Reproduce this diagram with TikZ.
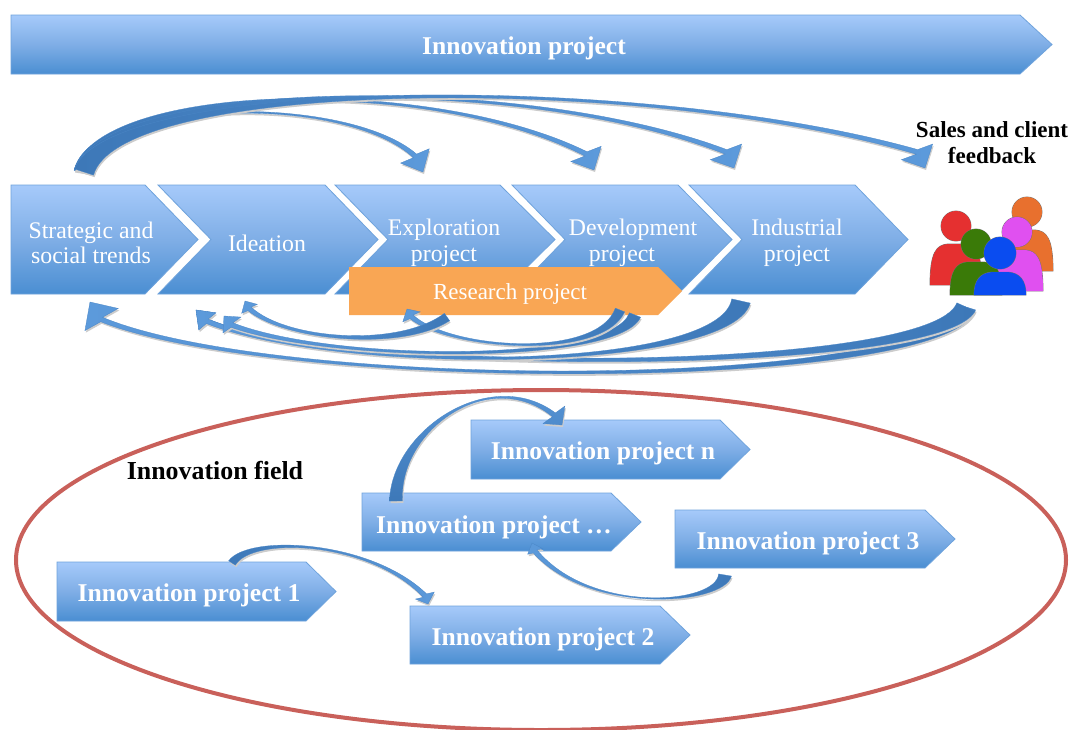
\documentclass[tikz,border=0pt]{standalone}
\usepackage{fontspec}
\setmainfont{Liberation Serif}
\definecolor{chevtop}{HTML}{A6CAFA}
\definecolor{chevmid}{HTML}{7FAEE6}
\definecolor{chevbot}{HTML}{4A8ED2}
\definecolor{chevline}{HTML}{6FA3DC}
\definecolor{swooshdark}{HTML}{3D78B8}
\definecolor{swooshblue}{HTML}{5C9ADB}
\definecolor{swooshline}{HTML}{4A86C6}
\definecolor{resorange}{HTML}{F9A654}
\definecolor{fieldred}{HTML}{C9605A}
\definecolor{pOrange}{HTML}{E8702E}
\definecolor{pRed}{HTML}{E53030}
\definecolor{pGreen}{HTML}{3A7A08}
\definecolor{pMagenta}{HTML}{E050F0}
\definecolor{pBlue}{HTML}{0A4CF0}
\tikzset{
  chevshape/.style={top color=chevtop,bottom color=chevbot,middle color=chevmid,draw=chevline,line width=0.8pt},
  chevtext/.style={text=white,align=center,font=\fontsize{23.8}{25.5}\selectfont,inner sep=0pt},
  chevbold/.style={text=white,align=center,font=\fontsize{25.6}{28}\selectfont\bfseries,inner sep=0pt},
  blacklabel/.style={text=black,align=center,font=\fontsize{23}{26}\selectfont\bfseries,inner sep=0pt},
  swooshleft/.style={left color=swooshdark,right color=swooshblue},
  swooshright/.style={left color=swooshblue,right color=swooshdark},
  swooshup/.style={top color=swooshblue,bottom color=swooshdark},
  swooshfill/.style={swooshleft},
}
% chevron: x-left, x-shoulder, x-tip, y-top, y-bottom, notch depth
\newcommand\chev[6]{%
  \pgfmathsetmacro\ymid{(#4+#5)/2}%
  \pgfmathsetmacro\xn{#1+#6}%
  \shade[chevshape] (#1,#4) -- (#2,#4) -- (#3,\ymid) -- (#2,#5) -- (#1,#5) -- (\xn,\ymid) -- cycle;}
\def\parsesw#1/#2/#3/#4/#5\relax{\def\swW{#1}\def\swL{#2}\def\swH{#3}\def\swDx{#4}\def\swDy{#5}}
% width/headlen/headwidth/headdirx/headdiry (start)(ctrl1)(ctrl2)(tip)
\def\swoosh#1(#2,#3)(#4,#5)(#6,#7)(#8,#9){%
  \begingroup
  \parsesw#1\relax
  \pgfmathsetmacro\lena{veclen(#4-#2,#5-#3)}%
  \pgfmathsetmacro\nax{-(#5-#3)/\lena}\pgfmathsetmacro\nay{(#4-#2)/\lena}%
  \pgfmathsetmacro\lend{veclen(\swDx,\swDy)}%
  \pgfmathsetmacro\dbx{\swDx/\lend}\pgfmathsetmacro\dby{\swDy/\lend}%
  \pgfmathsetmacro\nhx{-\dby}\pgfmathsetmacro\nhy{\dbx}%
  \pgfmathsetmacro\bx{#8-\swL*\dbx}\pgfmathsetmacro\by{#9-\swL*\dby}%
  \pgfmathsetmacro\lenb{veclen(\bx-#6,\by-#7)}%
  \pgfmathsetmacro\nbx{-(\by-#7)/\lenb}\pgfmathsetmacro\nby{(\bx-#6)/\lenb}%
  \pgfmathsetmacro\t{2.4}%
  \pgfmathsetmacro\tc{0.6}%
  \pgfmathsetmacro\wh{\swW/2}%
  \pgfmathsetmacro\wc{\swW/4+\tc/2}%
  \def\swpath{
    ({#2+\wh*\nax},{#3+\wh*\nay}) .. controls ({#4+\wc*\nax},{#5+\wc*\nay}) and ({#6+\tc*\nbx},{#7+\tc*\nby}) .. ({\bx+\t*\nbx},{\by+\t*\nby})
    -- ({\bx+\swH/2*\nhx},{\by+\swH/2*\nhy}) -- (#8,#9)
    -- ({\bx-\swH/2*\nhx},{\by-\swH/2*\nhy}) -- ({\bx-\t*\nbx},{\by-\t*\nby})
    .. controls ({#6-\tc*\nbx},{#7-\tc*\nby}) and ({#4-\wc*\nax},{#5-\wc*\nay}) .. ({#2-\wh*\nax},{#3-\wh*\nay}) -- cycle}%
  \fill[black!20,shift={(1,2)}] \swpath;
  \shade[swooshfill,draw=swooshline,line width=0.3pt] \swpath;
  \endgroup}
% person: head centre x, y, head radius, base y, half width, colour
\newcommand\person[6]{%
  \pgfmathsetmacro\pl{#1-#5}\pgfmathsetmacro\prr{#1+#5}%
  \pgfmathsetmacro\ps{#2+#3*1.2}%
  \def\pbody{(\pl,#4) .. controls (\pl,{\ps+8}) and ({#1-#5*0.75},{\ps+1}) .. ({#1-#3*0.55},\ps)
    -- ({#1+#3*0.55},\ps) .. controls ({#1+#5*0.75},{\ps+1}) and (\prr,{\ps+8}) .. (\prr,#4) -- cycle}%
  \draw[black!55,line width=0.8pt] \pbody;
  \draw[black!55,line width=0.8pt] (#1,#2) circle[radius=#3];
  \fill[#6] \pbody;
  \fill[#6] (#1,#2) circle[radius=#3];}
\begin{document}
\begin{tikzpicture}[x=1pt,y=-1pt]
\useasboundingbox (0,0) rectangle (1073,729);
\fill[white] (0,0) rectangle (1073,729);
% top bar
\chev{11}{1020}{1052}{15}{74}{0}
\node[chevbold] (main) at (524,48) {Innovation project};
% process row
\chev{11}{145}{198}{185}{294}{0}
\chev{158}{325}{378}{185}{294}{53}
\chev{335}{500}{555}{185}{294}{53}
\chev{512}{678}{732}{185}{294}{53}
\chev{689}{855}{908}{185}{294}{53}
\node[chevtext] (trends) at (91,243) {Strategic and\\social trends};
\node[chevtext] (ideation) at (267,243) {Ideation};
\node[chevtext] (explore) at (444,243) {Exploration\\project};
\node[chevtext] (develop) at (633,243) {Development\\project\hspace*{22pt}};
\node[chevtext] (industrial) at (797,243) {Industrial\\project};
% research
\fill[resorange] (349,267) -- (658,267) -- (682,291) -- (658,315) -- (349,315) -- cycle;
\node[chevtext,font=\fontsize{23}{24}\selectfont] (research) at (510,294) {Research project};
% crowd
\person{1027}{212}{15}{271}{26}{pOrange}
\person{956}{226}{15}{285}{26}{pRed}
\person{1017}{232}{15}{291}{26}{pMagenta}
\person{976}{244}{15}{295}{26}{pGreen}
\person{1000}{253}{16}{295}{26}{pBlue}
\node[blacklabel] (sales) at (992,143) {Sales and client\\feedback};
% top swooshes
\swoosh{20/18/32/0.45/0.9}(84,172)(95,98)(345,93)(423,172)
\swoosh{20/18/34/0.45/0.9}(84,172)(105,83)(430,75)(594,170)
\swoosh{20/18/35/0.45/0.9}(84,172)(110,80)(520,72)(734,168)
\swoosh{20/18/35/0.45/0.9}(84,172)(115,78)(640,72)(925,168)
% bottom swooshes
\tikzset{swooshfill/.style={swooshright}}
\swoosh{20/21/40/-0.55/-0.83}(966,307)(940,392)(280,392)(90,302)
\swoosh{20/16/24/-0.7/-0.7}(966,307)(935,375)(340,375)(196,310)
\swoosh{19/16/24/-0.7/-0.7}(741,301)(725,372)(340,375)(196,310)
\swoosh{12/12/24/-0.66/-0.75}(635,315)(615,365)(330,362)(224,316)
\swoosh{10/9/20/-0.5/-0.87}(620,310)(600,360)(450,350)(407,309)
\swoosh{9/9/18/-0.5/-0.87}(447,317)(400,350)(285,340)(245,301)
% field
\draw[fieldred,line width=4pt] (541,560) ellipse [x radius=525,y radius=170];
\node[blacklabel,font=\fontsize{25.9}{26}\selectfont\bfseries] (field) at (215,470) {Innovation field};
% small chevrons
\chev{471}{720}{750}{420}{479}{0}
\chev{362}{611}{641}{493}{551}{0}
\chev{675}{925}{955}{510}{568}{0}
\chev{57}{306}{336}{562}{621}{0}
\chev{410}{660}{690}{606}{664}{0}
\node[chevbold] (ipn) at (603,453) {Innovation project n};
\node[chevbold] (ipd) at (494,527) {Innovation project …};
\node[chevbold] (ip3) at (808,543) {Innovation project 3};
\node[chevbold] (ip1) at (189,595) {Innovation project 1};
\node[chevbold] (ip2) at (543,639) {Innovation project 2};
% field swooshes
\tikzset{swooshfill/.style={swooshup}}
\swoosh{13/13/28/0.62/0.78}(396,501)(395,430)(490,365)(562,425)
\tikzset{swooshfill/.style={swooshright}}
\swoosh{13/9/16/-0.35/-0.94}(725,575)(720,605)(590,615)(532,543)
\tikzset{swooshfill/.style={swooshleft}}
\swoosh{8/9/20/0.35/0.94}(232,563)(250,535)(370,540)(428,604)
\end{tikzpicture}
\end{document}
